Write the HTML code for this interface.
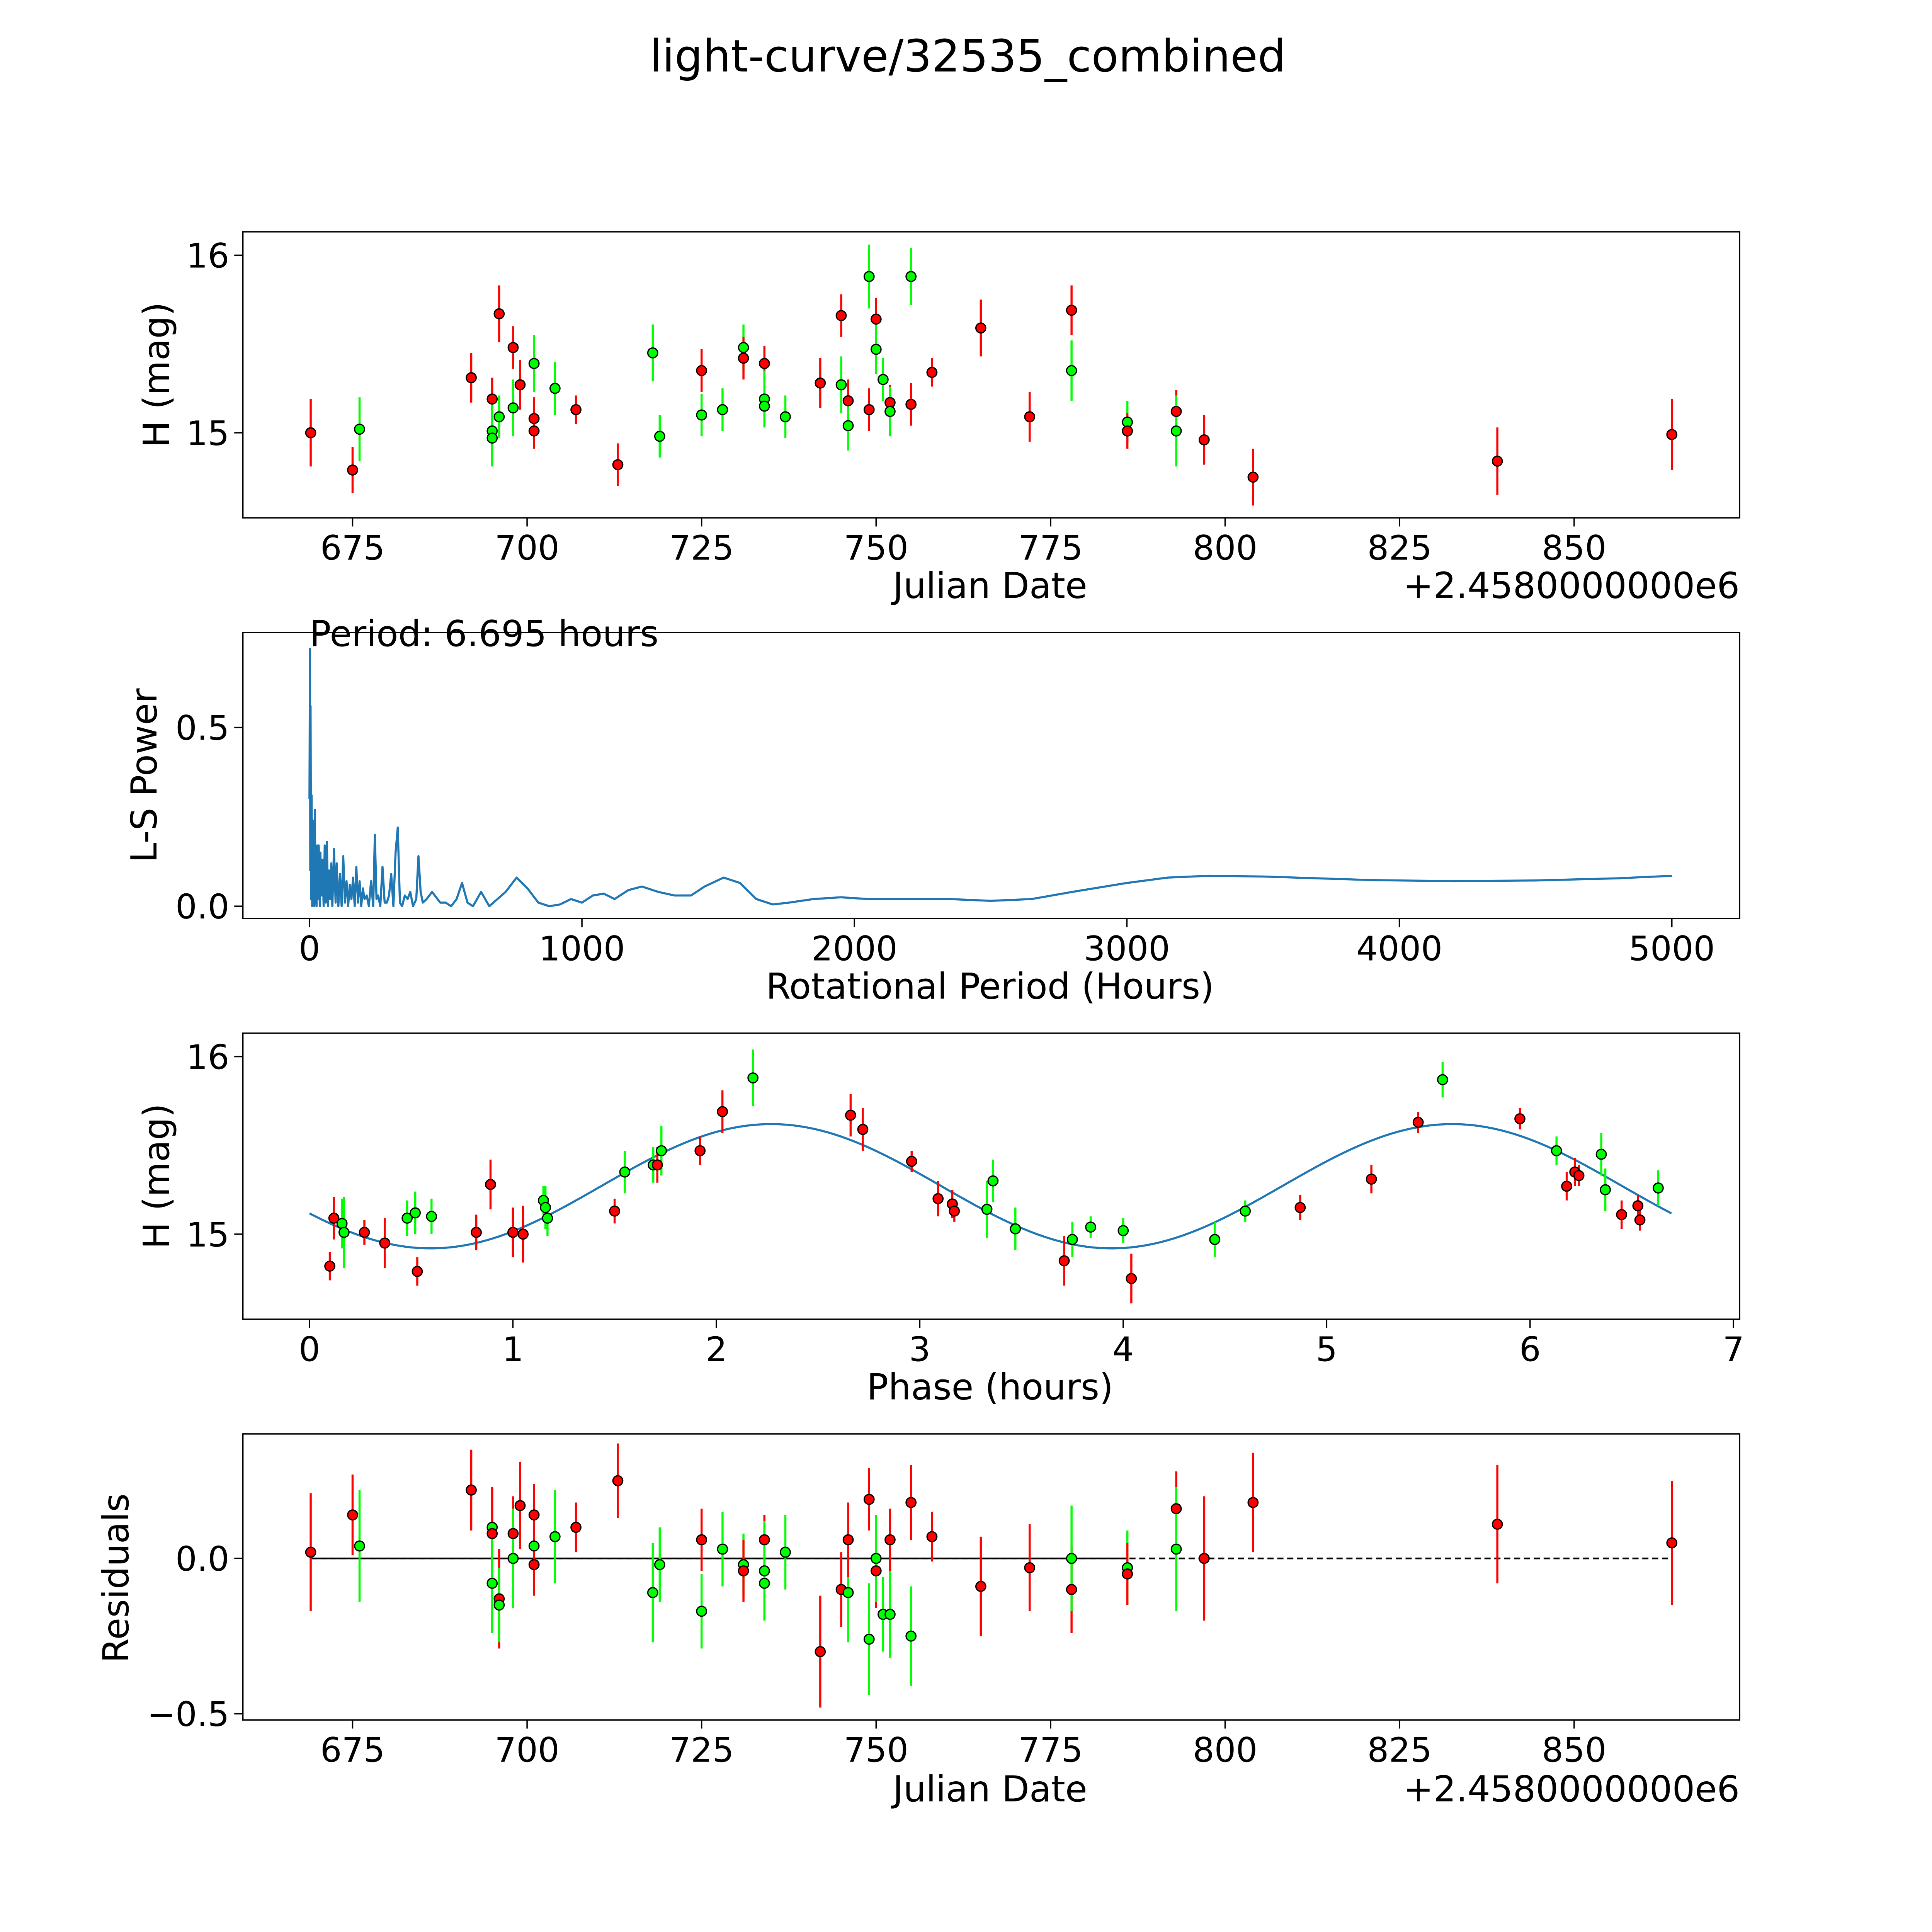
<!DOCTYPE html>
<html><head><meta charset="utf-8"><style>
html,body{margin:0;padding:0;background:#fff;overflow:hidden;width:100vw;height:100vh}
svg{display:block;width:100vw;height:100vh}
text{font-family:"DejaVu Sans","Liberation Sans",sans-serif;fill:#000}
</style></head><body>
<svg id="fig" viewBox="0 0 1567 1567" preserveAspectRatio="xMidYMid meet" xmlns="http://www.w3.org/2000/svg">
<rect width="1567" height="1567" fill="#fff"/>
<text x="785" y="58" font-size="36" text-anchor="middle">light-curve/32535_combined</text>
<g id="g1"></g>
<g id="g2"></g>
<g id="g3"></g>
<g id="g4"></g>
</svg>
<script>
// Panel 1 light curve data
const lcDays = [669,675,676,692,695,695,695,696,696,698,698,699,701,701,701,704,707,713,718,719,725,725,728,731,731,734,734,734,737,742,745,745,746,746,749,749,750,750,751,752,752,755,755,758,765,772,778,778,786,786,793,793,797,804,839,864];
const lcMag = [15.00,14.79,15.02,15.31,15.19,15.01,14.97,15.09,15.67,15.14,15.48,15.27,15.08,15.01,15.39,15.25,15.13,14.82,15.45,14.98,15.35,15.10,15.13,15.48,15.42,15.39,15.19,15.15,15.09,15.28,15.66,15.27,15.18,15.04,15.88,15.13,15.64,15.47,15.30,15.17,15.12,15.88,15.16,15.34,15.59,15.09,15.69,15.35,15.06,15.01,15.12,15.01,14.96,14.75,14.84,14.99];
const lcCol = ['r','r','g','r','r','g','g','g','r','g','r','r','r','r','g','g','r','r','g','g','r','g','g','g','r','r','g','g','g','r','r','g','r','g','g','r','r','g','g','r','g','g','r','r','r','r','r','g','g','r','r','g','r','r','r','r'];
const lcErr = [0.19,0.13,0.18,0.14,0.12,0.15,0.16,0.12,0.16,0.16,0.12,0.14,0.12,0.10,0.16,0.15,0.08,0.12,0.16,0.12,0.12,0.12,0.12,0.13,0.12,0.10,0.16,0.12,0.12,0.14,0.12,0.16,0.12,0.14,0.18,0.12,0.12,0.14,0.12,0.10,0.14,0.16,0.12,0.08,0.16,0.14,0.14,0.17,0.12,0.10,0.12,0.20,0.14,0.16,0.19,0.20];
// Panel 2 periodogram data
const lsPeriod = [0,2,3,4,6,8,10,12,14,16,18,20,22,24,26,28,30,34,38,40,44,48,52,56,60,64,68,72,76,80,84,90,96,100,106,112,118,124,130,136,142,148,154,160,166,172,178,184,190,196,202,210,218,226,234,240,246,252,260,268,276,284,292,300,308,316,324,332,340,350,360,370,380,392,400,408,416,430,450,480,500,520,540,560,580,600,630,660,690,720,760,800,840,880,920,960,1000,1040,1080,1120,1170,1220,1280,1340,1400,1450,1520,1580,1640,1700,1760,1850,1950,2050,2200,2350,2500,2650,2800,3000,3150,3300,3500,3700,3900,4200,4500,4800,5000];
const lsPower = [0.30,0.72,0.10,0.56,0.02,0.31,0.00,0.24,0.02,0.18,0.00,0.27,0.01,0.16,0.00,0.17,0.02,0.17,0.00,0.15,0.03,0.13,0.00,0.17,0.01,0.18,0.00,0.10,0.02,0.12,0.00,0.16,0.01,0.12,0.00,0.09,0.00,0.14,0.01,0.07,0.00,0.06,0.02,0.08,0.00,0.11,0.01,0.07,0.00,0.05,0.02,0.03,0.00,0.07,0.00,0.20,0.02,0.03,0.00,0.11,0.01,0.01,0.03,0.09,0.00,0.15,0.22,0.01,0.00,0.03,0.02,0.04,0.00,0.02,0.14,0.04,0.01,0.02,0.04,0.01,0.01,0.00,0.02,0.065,0.01,0.00,0.04,0.00,0.02,0.04,0.08,0.05,0.01,0.00,0.005,0.02,0.01,0.03,0.035,0.02,0.045,0.055,0.04,0.03,0.03,0.055,0.08,0.065,0.02,0.005,0.01,0.02,0.025,0.02,0.02,0.02,0.015,0.02,0.04,0.065,0.08,0.085,0.083,0.078,0.073,0.07,0.072,0.078,0.085];
// Panel 3 folded data
const phHours = [0.10,0.12,0.16,0.17,0.27,0.37,0.48,0.52,0.53,0.60,0.82,0.89,1.00,1.05,1.15,1.16,1.17,1.50,1.55,1.69,1.71,1.73,1.92,2.03,2.18,2.66,2.72,2.96,3.09,3.16,3.17,3.33,3.36,3.47,3.71,3.75,3.84,4.00,4.04,4.45,4.60,4.87,5.22,5.45,5.57,5.95,6.13,6.18,6.22,6.24,6.35,6.37,6.45,6.53,6.54,6.63];
const phMag = [14.82,15.09,15.06,15.01,15.01,14.95,15.09,15.12,14.79,15.10,15.01,15.28,15.01,15.00,15.19,15.15,15.09,15.13,15.35,15.39,15.39,15.47,15.47,15.69,15.88,15.67,15.59,15.41,15.20,15.17,15.13,15.14,15.30,15.03,14.85,14.97,15.04,15.02,14.75,14.97,15.13,15.15,15.31,15.63,15.87,15.65,15.47,15.27,15.35,15.33,15.45,15.25,15.11,15.16,15.08,15.26];
const phCol = ['r','r','g','g','r','r','g','g','r','g','r','r','r','r','g','g','g','r','g','g','r','g','r','r','g','r','r','r','r','r','r','g','g','g','r','g','g','g','r','g','g','r','r','r','g','r','g','r','r','r','g','g','r','r','r','g'];
const phErr = [0.08,0.12,0.14,0.20,0.07,0.14,0.10,0.12,0.08,0.10,0.10,0.14,0.14,0.16,0.08,0.12,0.10,0.07,0.12,0.10,0.10,0.14,0.08,0.12,0.16,0.12,0.12,0.06,0.10,0.08,0.06,0.16,0.12,0.12,0.14,0.10,0.06,0.07,0.14,0.10,0.06,0.07,0.08,0.06,0.10,0.06,0.08,0.08,0.08,0.06,0.12,0.12,0.08,0.06,0.06,0.10];
const modelMean = 15.27, modelAmp = 0.35, modelPeriod = 3.3475, modelPhase0 = 1.433, foldPeriod = 6.695;
// Panel 4 residuals
const rsDays = [669,675,676,692,695,695,695,696,696,698,698,699,701,701,701,704,707,713,718,719,725,725,728,731,731,734,734,734,737,742,745,746,746,749,749,750,750,751,752,752,755,755,758,765,772,778,778,786,786,793,793,797,804,839,864];
const rsVal = [0.02,0.14,0.04,0.22,0.10,0.08,-0.08,-0.13,-0.15,0.08,0.00,0.17,0.04,0.14,-0.02,0.07,0.10,0.25,-0.11,-0.02,0.06,-0.17,0.03,-0.02,-0.04,0.06,-0.04,-0.08,0.02,-0.30,-0.10,-0.11,0.06,-0.26,0.19,-0.04,0.00,-0.18,0.06,-0.18,0.18,-0.25,0.07,-0.09,-0.03,-0.10,0.00,-0.03,-0.05,0.16,0.03,0.00,0.18,0.11,0.05];
const rsCol = ['r','r','g','r','g','r','g','r','g','r','g','r','g','r','r','g','r','r','g','g','r','g','g','g','r','r','g','g','g','r','r','g','r','g','r','r','g','g','r','g','r','g','r','r','r','r','g','g','r','r','g','r','r','r','r'];
const rsErr = [0.19,0.13,0.18,0.13,0.12,0.15,0.16,0.16,0.12,0.12,0.16,0.14,0.16,0.10,0.10,0.15,0.08,0.12,0.16,0.12,0.10,0.12,0.12,0.10,0.10,0.08,0.16,0.12,0.12,0.18,0.12,0.16,0.12,0.18,0.10,0.12,0.14,0.12,0.10,0.14,0.12,0.16,0.08,0.16,0.14,0.14,0.17,0.12,0.10,0.12,0.20,0.20,0.16,0.19,0.20];
const dayTicks = [675,700,725,750,775,800,825,850];
const magTicks = [15,16];
const lsXTicks = [0,1000,2000,3000,4000,5000];
const lsYTicks = [0.0,0.5];
const phTicks = [0,1,2,3,4,5,6,7];
const rsTicks = [0.0,-0.5];

const NS='http://www.w3.org/2000/svg';
function mk(parent,tag,attrs,txt){const e=document.createElementNS(NS,tag);for(const k in attrs)e.setAttribute(k,attrs[k]);if(txt!==undefined)e.textContent=txt;parent.appendChild(e);return e;}
const L=197,R=1411;
const dx=d=>252+(d-669)*(1356-252)/195;
const colorOf=c=>c==='r'?'#ff0000':'#00ff00';
function frame(g,top,bot){const f=mk(g,'rect',{x:L,y:top,width:R-L,height:bot-top,fill:'none',stroke:'#000','stroke-width':1.1});
}
function xTicks(g,ticks,fx,bot,fmt){ticks.forEach(t=>{const x=fx(t);mk(g,'line',{x1:x,x2:x,y1:bot,y2:bot+7,stroke:'#000','stroke-width':1.1});
const tx=mk(g,'text',{x:x,y:bot+34,'font-size':27.5,'text-anchor':'middle'},fmt(t));
});}
function yTicks(g,ticks,fy,fmt){ticks.forEach(t=>{const y=fy(t);mk(g,'line',{x1:L-7,x2:L,y1:y,y2:y,stroke:'#000','stroke-width':1.1});
const tx=mk(g,'text',{x:L-11,y:y+10,'font-size':27.5,'text-anchor':'end'},fmt(t));
});}
function label(g,x,y,s,rot,name){const t=mk(g,'text',{x:x,y:y,'font-size':29,'text-anchor':'middle',transform:rot?`rotate(-90 ${x} ${y})`:''},s);
}
function points(g,xs,ys,cols,errs,fx,fy,scale,name){xs.forEach((v,i)=>{const x=fx(v),y=fy(ys[i]);
const l=mk(g,'line',{x1:x,x2:x,y1:fy(ys[i]-errs[i]),y2:fy(ys[i]+errs[i]),stroke:colorOf(cols[i]),'stroke-width':1.7});
});
xs.forEach((v,i)=>{const c=mk(g,'circle',{cx:fx(v),cy:fy(ys[i]),r:4,fill:colorOf(cols[i]),stroke:'#000','stroke-width':1});
});}
const fmtDay=t=>String(t);
// Panel 1
{const g=document.getElementById('g1');const fy=m=>351-(m-15)*144;
frame(g,188,420);xTicks(g,dayTicks,dx,420,fmtDay);yTicks(g,magTicks,fy,String);
points(g,lcDays,lcMag,lcCol,lcErr,dx,fy,1,'light-curve-point');
label(g,803,485,'Julian Date',false,'x-axis-title');label(g,137,304,'H (mag)',true,'y-axis-title');
const o=mk(g,'text',{x:1411,y:485,'font-size':29,'text-anchor':'end'},'+2.4580000000e6');}
// Panel 2
{const g=document.getElementById('g2');const fx=p=>251+p*(1356-251)/5000;const fy=v=>735-v*(735-590)/0.5;
frame(g,513,745);xTicks(g,lsXTicks,fx,745,String);yTicks(g,lsYTicks,fy,v=>v.toFixed(1));
const d=lsPeriod.map((p,i)=>(i?'L':'M')+fx(p).toFixed(2)+','+fy(lsPower[i]).toFixed(2)).join(' ');
const pth=mk(g,'path',{d:d,fill:'none',stroke:'#1f77b4','stroke-width':1.7,'stroke-linejoin':'round'});

label(g,803,810,'Rotational Period (Hours)',false,'x-axis-title');label(g,127,629,'L-S Power',true,'y-axis-title');
const a=mk(g,'text',{x:251,y:524,'font-size':29},'Period: 6.695 hours');}
// Panel 3
{const g=document.getElementById('g3');const fx=p=>251+p*165;const fy=m=>1001-(m-15)*144;
frame(g,838,1070);xTicks(g,phTicks,fx,1070,String);yTicks(g,magTicks,fy,String);
let d='';for(let i=0;i<=200;i++){const p=foldPeriod*i/200;const m=modelMean+modelAmp*Math.sin(2*Math.PI*(p-modelPhase0)/modelPeriod);d+=(i?'L':'M')+fx(p).toFixed(2)+','+fy(m).toFixed(2)+' ';}
const c=mk(g,'path',{d:d,fill:'none',stroke:'#1f77b4','stroke-width':1.7});
points(g,phHours,phMag,phCol,phErr,fx,fy,1,'phase-point');
label(g,803,1135,'Phase (hours)',false,'x-axis-title');label(g,137,954,'H (mag)',true,'y-axis-title');}
// Panel 4
{const g=document.getElementById('g4');const fy=v=>1264-v*252;
frame(g,1163,1395);xTicks(g,dayTicks,dx,1395,fmtDay);yTicks(g,rsTicks,fy,v=>v===0?'0.0':'\u22120.5');
const z1=mk(g,'line',{x1:dx(669),x2:dx(864),y1:fy(0),y2:fy(0),stroke:'#000','stroke-width':1.4,'stroke-dasharray':'5,3'});
const z2=mk(g,'line',{x1:dx(669),x2:dx(786),y1:fy(0),y2:fy(0),stroke:'#000','stroke-width':1.4});
points(g,rsDays,rsVal,rsCol,rsErr,dx,fy,1,'residual-point');
label(g,803,1461,'Julian Date',false,'x-axis-title');label(g,104,1280,'Residuals',true,'y-axis-title');
const o=mk(g,'text',{x:1411,y:1461,'font-size':29,'text-anchor':'end'},'+2.4580000000e6');}
</script>
</body></html>
